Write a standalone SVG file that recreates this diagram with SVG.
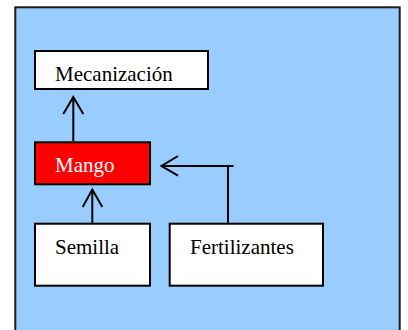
<svg xmlns="http://www.w3.org/2000/svg" width="408" height="330" viewBox="0 0 408 330">
  <style>
    .box { stroke: #000; stroke-width: 2; }
    .lbl { font-family: 'Liberation Serif', 'DejaVu Serif', serif; font-size: 21px; }
    .conn { fill: none; stroke: #000; stroke-width: 2; }
  </style>
  <defs>
    <clipPath id="clipMec">
      <rect x="36" y="52" width="171" height="29"/>
    </clipPath>
  </defs>
  <rect width="408" height="330" fill="#fff"/>
  <g id="frame">
    <rect x="15.3" y="7.3" width="384.4" height="400" fill="#99CCFF" stroke="#1a1a1a" stroke-width="2"/>
  </g>
  <g id="mecanizacion">
    <rect class="box" x="35" y="51" width="173" height="38" fill="#fff"/>
    <text class="lbl" x="55" y="81" fill="#000" clip-path="url(#clipMec)" font-family="Liberation Serif, serif">Mecanización</text>
  </g>
  <g id="mango">
    <rect class="box" x="35" y="142.3" width="115" height="42" fill="#FF0000"/>
    <text class="lbl" x="55" y="171.5" fill="#fff" font-family="Liberation Serif, serif">Mango</text>
  </g>
  <g id="semilla">
    <rect class="box" x="35" y="223.7" width="115" height="62" fill="#fff"/>
    <text class="lbl" x="55" y="254.3" fill="#000" font-family="Liberation Serif, serif">Semilla</text>
  </g>
  <g id="fertilizantes">
    <rect class="box" x="169.7" y="223.7" width="153.3" height="62" fill="#fff"/>
    <text class="lbl" x="190" y="254.3" fill="#000" font-family="Liberation Serif, serif">Fertilizantes</text>
  </g>
  <g id="connectors">
    <path class="conn" d="M73.3 141.3 V97.5 M63.3 114 L73.3 97 L83.3 114"/>
    <path class="conn" d="M92.3 222.7 V190 M82.7 207 L92.3 189.5 L102.3 207"/>
    <path class="conn" d="M228 222.7 V166 M233.5 166 H162 M178 156 L161.5 166 L178 175.7"/>
  </g>
</svg>
